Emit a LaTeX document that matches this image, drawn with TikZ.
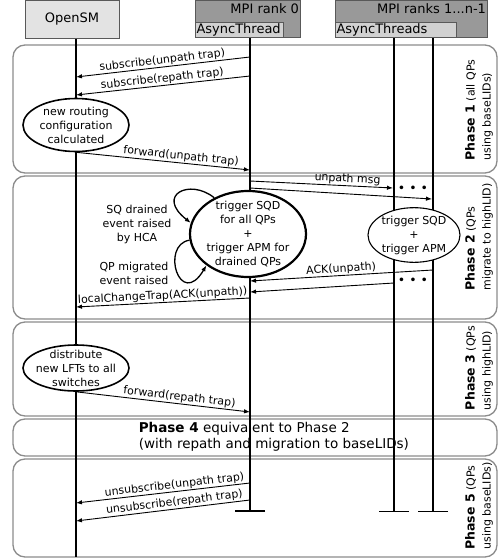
\documentclass[tikz,border=0pt]{standalone}
\usepackage{fontspec}
\setmainfont{DejaVu Sans}
\usetikzlibrary{shapes.geometric, arrows.meta}

\begin{document}
\begin{tikzpicture}[x=1pt, y=-1pt, line width=1pt, >={Latex[length=6pt, width=4.5pt]},
    phase/.style={draw=black!45, line width=1.3pt, rounded corners=12pt, fill=white},
    hdr/.style={draw=black!65, line width=1pt, font=\fontsize{13}{15}\selectfont},
    life/.style={line width=1.8pt},
    msg/.style={->, line width=0.9pt},
    lbl/.style={above, sloped, inner sep=0.8pt, font=\fontsize{11}{13}\selectfont},
    act/.style={ellipse, draw, fill=white, align=center, inner sep=0pt, font=\fontsize{11}{14}\selectfont},
    plabel/.style={rotate=90, align=left, font=\fontsize{11}{16}\selectfont}]
  \useasboundingbox (0,0) rectangle (498,560);

  \draw[phase] (13,45) rectangle (497,173);
  \draw[phase] (13,176) rectangle (497,319);
  \draw[phase] (13,322) rectangle (497,416);
  \draw[phase] (13,419) rectangle (497,456);
  \draw[phase] (13,459) rectangle (497,557);

  \node[hdr, fill=black!11, minimum width=94pt, minimum height=38pt] (osm) at (72,19) {OpenSM};
  \node[hdr, fill=black!40, minimum width=105pt, minimum height=37pt, anchor=north west] (rk0) at (195,0) {};
  \node[anchor=north east, inner xsep=1.5pt, inner ysep=3pt, font=\fontsize{13}{15}\selectfont] (rk0t) at (rk0.north east) {MPI rank 0};
  \node[hdr, fill=black!18, anchor=south west, text width=86pt, align=left, inner xsep=1pt, inner ysep=0pt, minimum height=15pt] (at0) at (rk0.south west) {AsyncThread};
  \node[hdr, fill=black!40, minimum width=152pt, minimum height=37pt, anchor=north west] (rkN) at (335,0) {};
  \node[anchor=north east, inner xsep=1.5pt, inner ysep=3pt, font=\fontsize{13}{15}\selectfont] (rkNt) at (rkN.north east) {MPI ranks 1...n-1};
  \node[hdr, fill=black!18, anchor=south west, text width=119pt, align=left, inner xsep=1pt, inner ysep=0pt, minimum height=15pt] (atN) at (rkN.south west) {AsyncThreads};

  \node[plabel] (p1) at (479,110) {{\fontsize{12.5}{16}\selectfont\bfseries Phase 1} (all QPs\\using baseLIDs)};
  \node[plabel] (p2) at (479,237) {{\fontsize{12.5}{16}\selectfont\bfseries Phase 2} (QPs\\migrate to highLID)};
  \node[plabel] (p3) at (479,368) {{\fontsize{12.5}{16}\selectfont\bfseries Phase 3} (QPs\\using highLID)};
  \node[plabel] (p5) at (479,506) {{\fontsize{12.5}{16}\selectfont\bfseries Phase 5} (QPs\\using baseLIDs)};
  \node[align=left, anchor=west, font=\fontsize{13.5}{16.5}\selectfont] (p4) at (135,437) {\textbf{Phase 4} equivalent to Phase 2\\(with repath and migration to baseLIDs)};

  \coordinate (osmE) at (76,557);
  \coordinate (at0E) at (250,512);
  \coordinate (atAE) at (394,512);
  \coordinate (atBE) at (433,512);
  \draw[life] (osm.south -| osmE) -- (osmE);
  \draw[life, -{Bar[width=30pt]}] (at0.south -| at0E) -- (at0E);
  \draw[life, line width=1.5pt, -{Bar[width=30pt]}] (atN.south -| atAE) -- (atAE);
  \draw[life, line width=1.5pt, -{Bar[width=30pt]}] (atN.south -| atBE) -- (atBE);

  \node[act, line width=1.6pt, minimum width=106pt, minimum height=53pt, inner ysep=-3pt] (route) at (76,125) {new routing\\configuration\\calculated};
  \node[act, line width=2.2pt, minimum width=116pt, minimum height=86pt, inner xsep=-2pt, inner ysep=-8pt] (trig0) at (248,234) {trigger SQD\\for all QPs\\+\\trigger APM for\\drained QPs};
  \node[act, line width=1.1pt, minimum width=92pt, minimum height=54pt] (trigN) at (414,235) {trigger SQD\\+\\trigger APM};
  \node[act, line width=1.6pt, minimum width=106pt, minimum height=46pt, inner xsep=-3pt, inner ysep=-6pt] (distr) at (76,368) {distribute\\new LFTs to all\\switches};
  \node[align=center, font=\fontsize{11}{14}\selectfont] (sqd) at (137,224) {SQ drained\\event raised\\by HCA};
  \node[align=center, font=\fontsize{11}{14}\selectfont] (qpm) at (134,273) {QP migrated\\event raised};
  \node[font=\fontsize{12.5}{14}\selectfont] (dotsA) at (413,189) {\textbullet\ \textbullet\ \textbullet};
  \node[font=\fontsize{12.5}{14}\selectfont] (dotsB) at (413,281) {\textbullet\ \textbullet\ \textbullet};

  \draw[->, line width=1.3pt] (trig0.133) .. controls (190,178) and (155,195) .. (trig0.169);
  \draw[->, line width=1.3pt] (trig0.186) .. controls (160,245) and (180,310) .. (trig0.217);

  \coordinate (su0) at (250,57);  \coordinate (su1) at (76,77);
  \coordinate (sr0) at (250,76);  \coordinate (sr1) at (76,95);
  \coordinate (fu1) at (250,170);
  \coordinate (um0) at (250,181); \coordinate (um1) at (393,188);
  \coordinate (un0) at (250,188); \coordinate (un1) at (432,199);
  \coordinate (ak0) at (433,270); \coordinate (ak1) at (250,281);
  \coordinate (al0) at (394,283); \coordinate (al1) at (250,292);
  \coordinate (lc0) at (250,298); \coordinate (lc1) at (76,307);
  \coordinate (fr1) at (250,412);
  \coordinate (uu0) at (250,483); \coordinate (uu1) at (76,503);
  \coordinate (ur0) at (250,500); \coordinate (ur1) at (76,521);

  \draw[msg] (su0) -- node[lbl] {subscribe(unpath trap)} (su1);
  \draw[msg] (sr0) -- node[lbl] {subscribe(repath trap)} (sr1);
  \draw[msg] (route.south) -- node[lbl, pos=0.6] {forward(unpath trap)} (fu1);
  \draw[msg] (um0) -- node[lbl, pos=0.68] {unpath msg} (um1);
  \draw[msg] (un0) -- (un1);
  \draw[msg] (ak0) -- node[lbl] {ACK(unpath)} (ak1);
  \draw[msg] (al0) -- (al1);
  \draw[msg] (lc0) -- node[lbl] {localChangeTrap(ACK(unpath))} (lc1);
  \draw[msg] (distr.south) -- node[lbl, pos=0.59] {forward(repath trap)} (fr1);
  \draw[msg] (uu0) -- node[lbl, pos=0.43] {unsubscribe(unpath trap)} (uu1);
  \draw[msg] (ur0) -- node[lbl, pos=0.43] {unsubscribe(repath trap)} (ur1);
\end{tikzpicture}
\end{document}
